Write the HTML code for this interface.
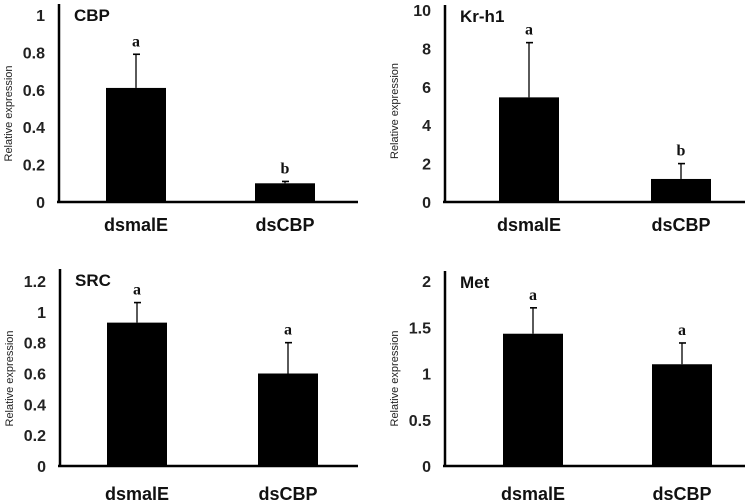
<!DOCTYPE html>
<html><head><meta charset="utf-8"><style>
html,body{margin:0;padding:0;background:#fff;width:750px;height:504px;overflow:hidden}
svg{display:block}
</style></head><body>
<svg id="chart" width="750" height="504" xmlns="http://www.w3.org/2000/svg"></svg>
<script>
const categories = ["dsmalE", "dsCBP"];
const cbpValues = [0.61, 0.10];
const cbpErrors = [0.18, 0.01];
const cbpLetters = ["a", "b"];
const cbpTicks = ["0", "0.2", "0.4", "0.6", "0.8", "1"];
const krValues = [5.45, 1.2];
const krErrors = [2.85, 0.8];
const krLetters = ["a", "b"];
const krTicks = ["0", "2", "4", "6", "8", "10"];
const srcValues = [0.93, 0.60];
const srcErrors = [0.13, 0.20];
const srcLetters = ["a", "a"];
const srcTicks = ["0", "0.2", "0.4", "0.6", "0.8", "1", "1.2"];
const metValues = [1.43, 1.10];
const metErrors = [0.28, 0.23];
const metLetters = ["a", "a"];
const metTicks = ["0", "0.5", "1", "1.5", "2"];

const NS = "http://www.w3.org/2000/svg";
const svg = document.getElementById("chart");
function mk(tag, attrs, parent){
  const e = document.createElementNS(NS, tag);
  for (const k in attrs) e.setAttribute(k, attrs[k]);
  (parent || svg).appendChild(e);
  return e;
}
function panel(o){
  const g = mk("g", {});
  
  
  const max = parseFloat(o.ticks[o.ticks.length-1]);
  const y = v => o.y0 - (v / max) * (o.y0 - o.yTop);
  const ya = mk("line", {x1:o.ax, x2:o.ax, y1:o.axTop, y2:o.y0+1, stroke:"#000","stroke-width":2.5}, g);
  
  
  const xa = mk("line", {x1:o.ax-2, x2:o.axEnd, y1:o.y0, y2:o.y0, stroke:"#000","stroke-width":2.5}, g);
  
  
  o.ticks.forEach(t => {
    const tx = mk("text", {x:o.ax-14, y:y(parseFloat(t))+6, "text-anchor":"end", "font-family":"Liberation Sans, sans-serif", "font-weight":"bold", "font-size":16, fill:"#222"}, g);
    tx.textContent = t;
    
    
  });
  const yt = mk("text", {transform:`translate(${o.ax-47},${(o.y0+o.yTop)/2+5}) rotate(-90)`, "text-anchor":"middle", "font-family":"Liberation Sans, sans-serif", "font-size":11, fill:"#222"}, g);
  yt.textContent = "Relative expression";
  
  
  const ti = mk("text", {x:o.ax+15, y:o.axTop+17, "font-family":"Liberation Sans, sans-serif", "font-weight":"bold", "font-size":17, fill:"#111"}, g);
  ti.textContent = o.name;
  
  
  categories.forEach((c, i) => {
    const bx = o.barX[i], bw = 60;
    const top = y(o.values[i]), et = y(o.values[i] + o.errors[i]);
    const cx = bx + bw/2;
    const el = mk("line", {x1:cx, x2:cx, y1:et, y2:top, stroke:"#000","stroke-width":1.3}, g);
    
    
    const cap = mk("line", {x1:cx-3, x2:cx+4, y1:et, y2:et, stroke:"#000","stroke-width":1.6}, g);
    
    
    const r = mk("rect", {x:bx, y:top, width:bw, height:o.y0-top, fill:"#000"}, g);
    
    
    const lt = mk("text", {x:cx, y:et-8, "text-anchor":"middle", "font-family":"Liberation Serif, serif", "font-weight":"bold", "font-size":16, fill:"#111"}, g);
    lt.textContent = o.letters[i];
    
    
    const cl = mk("text", {x:cx, y:o.labelY, "text-anchor":"middle", "font-family":"Liberation Sans, sans-serif", "font-weight":"bold", "font-size":18, fill:"#111"}, g);
    cl.textContent = c;
    
    
  });
}
panel({name:"CBP", ax:59, axTop:4, y0:202, yTop:15, axEnd:358, barX:[106,255], labelY:231, values:cbpValues, errors:cbpErrors, letters:cbpLetters, ticks:cbpTicks});
panel({name:"Kr-h1", ax:445, axTop:5, y0:202, yTop:10, axEnd:745, barX:[499,651], labelY:231, values:krValues, errors:krErrors, letters:krLetters, ticks:krTicks});
panel({name:"SRC", ax:60, axTop:269, y0:466, yTop:281, axEnd:358, barX:[107,258], labelY:500, values:srcValues, errors:srcErrors, letters:srcLetters, ticks:srcTicks});
panel({name:"Met", ax:445, axTop:271, y0:466, yTop:281, axEnd:745, barX:[503,652], labelY:500, values:metValues, errors:metErrors, letters:metLetters, ticks:metTicks});
</script>
</body></html>
